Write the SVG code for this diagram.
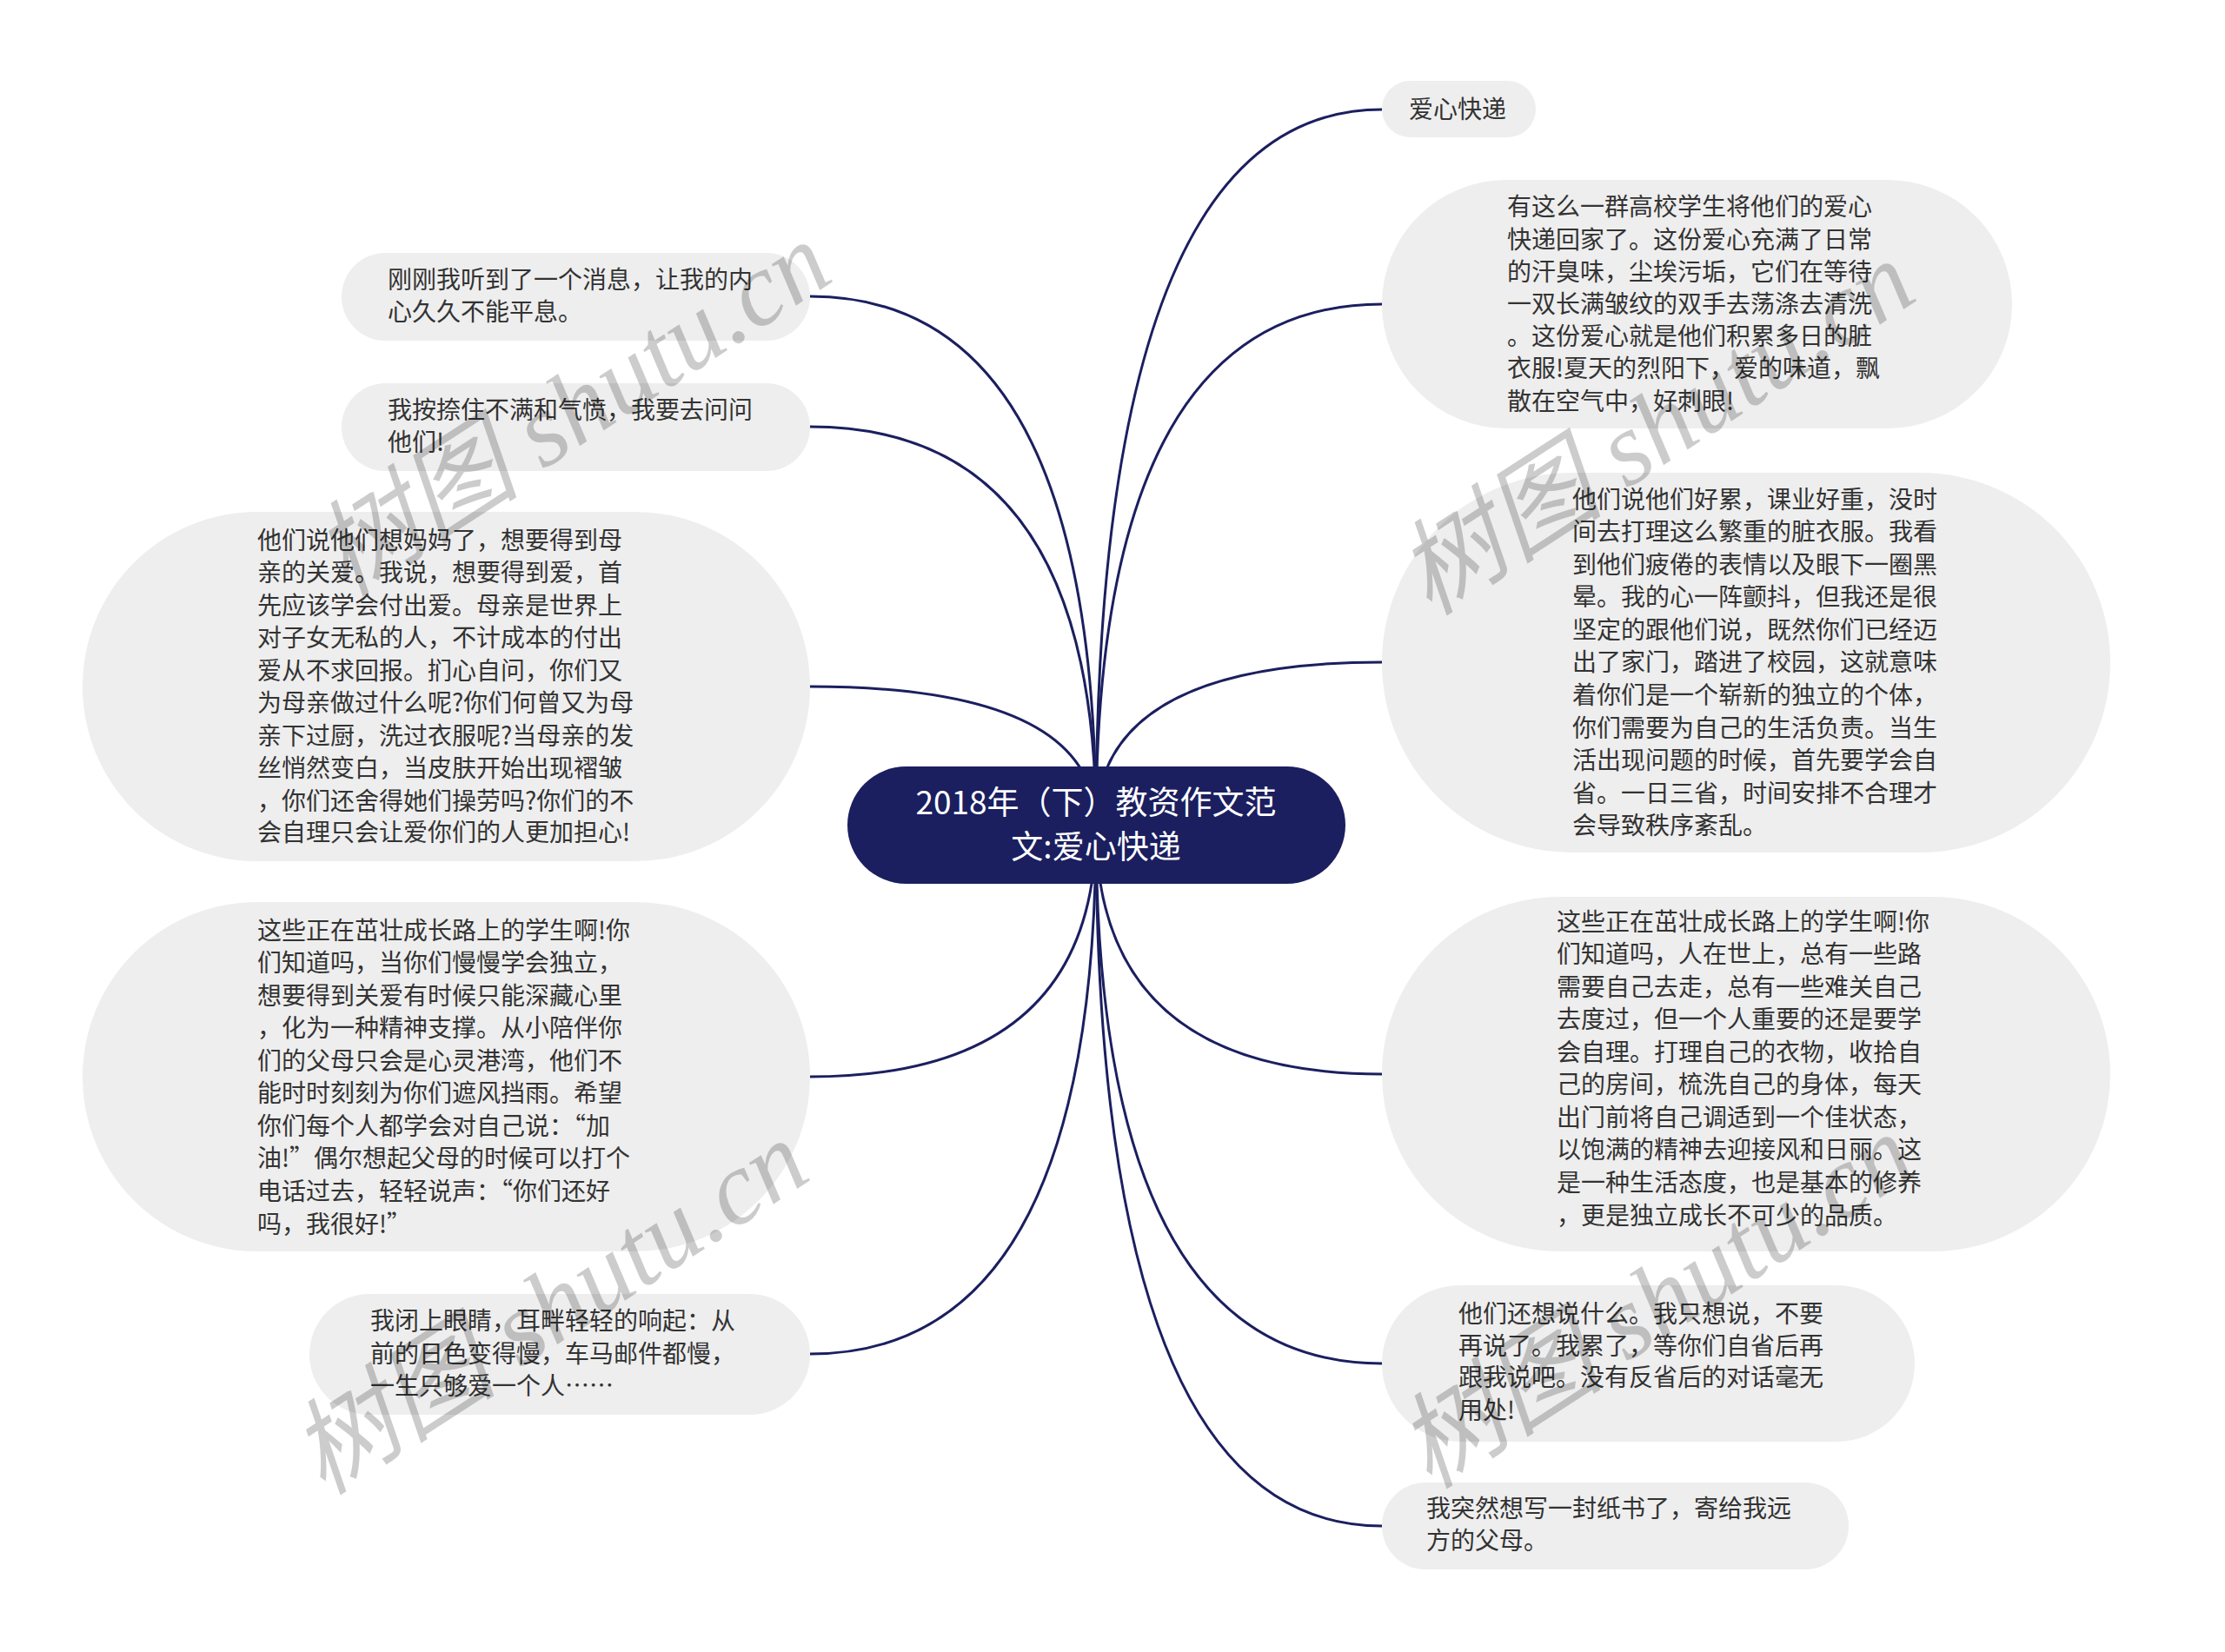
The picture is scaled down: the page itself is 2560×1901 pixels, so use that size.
<svg xmlns="http://www.w3.org/2000/svg" width="2560" height="1901" viewBox="0 0 2560 1901">
<style>
.node{fill:#eeeeee;}
.t{font-family:"Noto Sans CJK SC","Noto Sans",sans-serif;font-size:28px;fill:#333333;}
.ct{font-family:"Noto Sans CJK SC","Noto Sans",sans-serif;font-size:37px;fill:#ffffff;text-anchor:middle;}
.edge{fill:none;stroke:#1b1f5f;stroke-width:3;}
.wm{font-family:"Liberation Serif","Noto Sans CJK SC",serif;font-size:120px;font-style:italic;fill:#000000;fill-opacity:0.2;}
</style>
<rect width="2560" height="1901" fill="#ffffff"/>
<g id="connectors">
<path class="edge" d="M1261 950 Q1261 126 1590 126"/>
<path class="edge" d="M1261 950 Q1261 350 1590 350"/>
<path class="edge" d="M1261 950 Q1261 762 1590 762"/>
<path class="edge" d="M1261 950 Q1261 1236 1590 1236"/>
<path class="edge" d="M1261 950 Q1261 1569 1590 1569"/>
<path class="edge" d="M1261 950 Q1261 1756 1590 1756"/>
<path class="edge" d="M1261 950 Q1261 341 932 341"/>
<path class="edge" d="M1261 950 Q1261 491 932 491"/>
<path class="edge" d="M1261 950 Q1261 790 932 790"/>
<path class="edge" d="M1261 950 Q1261 1239 932 1239"/>
<path class="edge" d="M1261 950 Q1261 1558 932 1558"/>
</g>
<g id="center">
<rect x="975" y="882" width="573" height="135" rx="67.5" fill="#1b1f5f"/>
<text class="ct" x="1261" y="937">2018年（下）教资作文范</text>
<text class="ct" x="1261" y="988">文:爱心快递</text>
</g>
<g id="r1">
<rect class="node" x="1590" y="93" width="177" height="65" rx="32.5"/>
<text class="t" x="1621" y="136">爱心快递</text>
</g>
<g id="r2">
<rect class="node" x="1590" y="207" width="725" height="286" rx="143"/>
<text class="t" x="1734" y="248">有这么一群高校学生将他们的爱心</text>
<text class="t" x="1734" y="286">快递回家了。这份爱心充满了日常</text>
<text class="t" x="1734" y="323">的汗臭味，尘埃污垢，它们在等待</text>
<text class="t" x="1734" y="360">一双长满皱纹的双手去荡涤去清洗</text>
<text class="t" x="1734" y="397">。这份爱心就是他们积累多日的脏</text>
<text class="t" x="1734" y="434">衣服!夏天的烈阳下，爱的味道，飘</text>
<text class="t" x="1734" y="472">散在空气中，好刺眼!</text>
</g>
<g id="r3">
<rect class="node" x="1590" y="544" width="838" height="437" rx="218.5"/>
<text class="t" x="1809" y="585">他们说他们好累，课业好重，没时</text>
<text class="t" x="1809" y="622">间去打理这么繁重的脏衣服。我看</text>
<text class="t" x="1809" y="660">到他们疲倦的表情以及眼下一圈黑</text>
<text class="t" x="1809" y="697">晕。我的心一阵颤抖，但我还是很</text>
<text class="t" x="1809" y="735">坚定的跟他们说，既然你们已经迈</text>
<text class="t" x="1809" y="772">出了家门，踏进了校园，这就意味</text>
<text class="t" x="1809" y="810">着你们是一个崭新的独立的个体，</text>
<text class="t" x="1809" y="848">你们需要为自己的生活负责。当生</text>
<text class="t" x="1809" y="885">活出现问题的时候，首先要学会自</text>
<text class="t" x="1809" y="923">省。一日三省，时间安排不合理才</text>
<text class="t" x="1809" y="960">会导致秩序紊乱。</text>
</g>
<g id="r4">
<rect class="node" x="1590" y="1032" width="838" height="408" rx="204"/>
<text class="t" x="1791" y="1071">这些正在茁壮成长路上的学生啊!你</text>
<text class="t" x="1791" y="1108">们知道吗，人在世上，总有一些路</text>
<text class="t" x="1791" y="1146">需要自己去走，总有一些难关自己</text>
<text class="t" x="1791" y="1183">去度过，但一个人重要的还是要学</text>
<text class="t" x="1791" y="1221">会自理。打理自己的衣物，收拾自</text>
<text class="t" x="1791" y="1258">己的房间，梳洗自己的身体，每天</text>
<text class="t" x="1791" y="1296">出门前将自己调适到一个佳状态，</text>
<text class="t" x="1791" y="1333">以饱满的精神去迎接风和日丽。这</text>
<text class="t" x="1791" y="1371">是一种生活态度，也是基本的修养</text>
<text class="t" x="1791" y="1409">，更是独立成长不可少的品质。</text>
</g>
<g id="r5">
<rect class="node" x="1590" y="1479" width="613" height="180" rx="90"/>
<text class="t" x="1678" y="1522">他们还想说什么。我只想说，不要</text>
<text class="t" x="1678" y="1559">再说了。我累了，等你们自省后再</text>
<text class="t" x="1678" y="1595">跟我说吧。没有反省后的对话毫无</text>
<text class="t" x="1678" y="1633">用处!</text>
</g>
<g id="r6">
<rect class="node" x="1590" y="1706" width="537" height="100" rx="50"/>
<text class="t" x="1641" y="1746">我突然想写一封纸书了，寄给我远</text>
<text class="t" x="1641" y="1783">方的父母。</text>
</g>
<g id="l1">
<rect class="node" x="393" y="291" width="539" height="101" rx="50.5"/>
<text class="t" x="446" y="332">刚刚我听到了一个消息，让我的内</text>
<text class="t" x="446" y="369">心久久不能平息。</text>
</g>
<g id="l2">
<rect class="node" x="393" y="441" width="539" height="101" rx="50.5"/>
<text class="t" x="446" y="482">我按捺住不满和气愤，我要去问问</text>
<text class="t" x="446" y="519">他们!</text>
</g>
<g id="l3">
<rect class="node" x="95" y="589" width="837" height="402" rx="201"/>
<text class="t" x="296" y="632">他们说他们想妈妈了，想要得到母</text>
<text class="t" x="296" y="669">亲的关爱。我说，想要得到爱，首</text>
<text class="t" x="296" y="707">先应该学会付出爱。母亲是世界上</text>
<text class="t" x="296" y="744">对子女无私的人，不计成本的付出</text>
<text class="t" x="296" y="782">爱从不求回报。扪心自问，你们又</text>
<text class="t" x="296" y="819">为母亲做过什么呢?你们何曾又为母</text>
<text class="t" x="296" y="857">亲下过厨，洗过衣服呢?当母亲的发</text>
<text class="t" x="296" y="894">丝悄然变白，当皮肤开始出现褶皱</text>
<text class="t" x="296" y="932">，你们还舍得她们操劳吗?你们的不</text>
<text class="t" x="296" y="968">会自理只会让爱你们的人更加担心!</text>
</g>
<g id="l4">
<rect class="node" x="95" y="1038" width="837" height="402" rx="201"/>
<text class="t" x="296" y="1081">这些正在茁壮成长路上的学生啊!你</text>
<text class="t" x="296" y="1118">们知道吗，当你们慢慢学会独立，</text>
<text class="t" x="296" y="1156">想要得到关爱有时候只能深藏心里</text>
<text class="t" x="296" y="1193">，化为一种精神支撑。从小陪伴你</text>
<text class="t" x="296" y="1231">们的父母只会是心灵港湾，他们不</text>
<text class="t" x="296" y="1268">能时时刻刻为你们遮风挡雨。希望</text>
<text class="t" x="296" y="1306">你们每个人都学会对自己说：“加</text>
<text class="t" x="296" y="1343">油!”偶尔想起父母的时候可以打个</text>
<text class="t" x="296" y="1381">电话过去，轻轻说声：“你们还好</text>
<text class="t" x="296" y="1419">吗，我很好!”</text>
</g>
<g id="l5">
<rect class="node" x="356" y="1489" width="576" height="139" rx="69.5"/>
<text class="t" x="426" y="1530">我闭上眼睛，耳畔轻轻的响起：从</text>
<text class="t" x="426" y="1568">前的日色变得慢，车马邮件都慢，</text>
<text class="t" x="426" y="1605">一生只够爱一个人……</text>
</g>
<g id="watermarks">
<text class="wm" transform="translate(398 688) rotate(-33)">树图 shutu.cn</text>
<text class="wm" transform="translate(1645 710) rotate(-33)">树图 shutu.cn</text>
<text class="wm" transform="translate(372 1722) rotate(-33)">树图 shutu.cn</text>
<text class="wm" transform="translate(1645 1715) rotate(-33)">树图 shutu.cn</text>
</g>
</svg>
